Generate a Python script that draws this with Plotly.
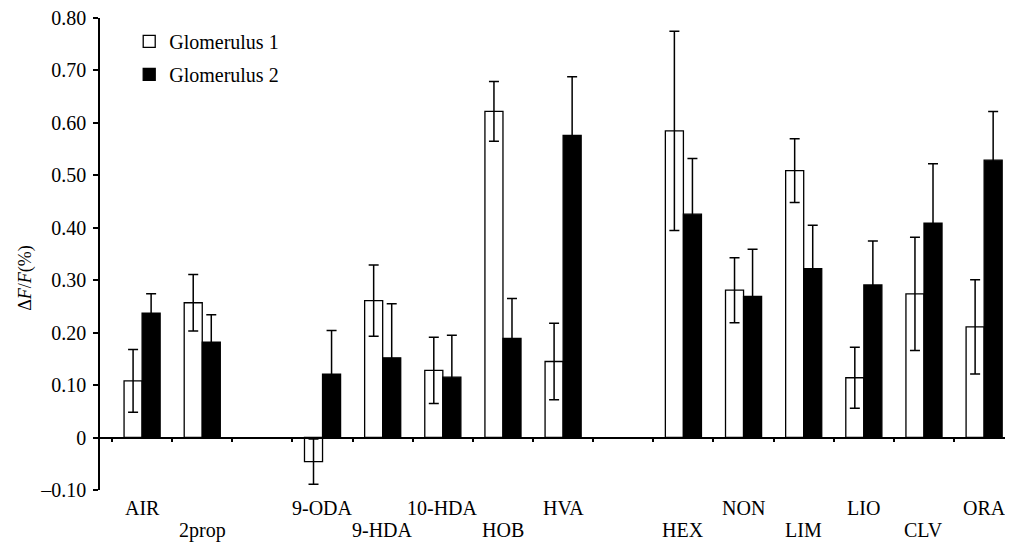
import plotly.graph_objects as go

# ---------------- data ----------------
groups = [
    ["AIR", "2prop"],
    ["9-ODA", "9-HDA", "10-HDA", "HOB", "HVA"],
    ["HEX", "NON", "LIM", "LIO", "CLV", "ORA"],
]
categories = [c for g in groups for c in g]

glom1 = [0.108, 0.257, -0.046, 0.261, 0.128, 0.622, 0.145, 0.585, 0.281, 0.509, 0.114, 0.274, 0.211]
glom1_err = [0.060, 0.054, 0.043, 0.068, 0.063, 0.057, 0.073, 0.190, 0.062, 0.061, 0.058, 0.108, 0.090]
glom2 = [0.237, 0.182, 0.121, 0.152, 0.115, 0.189, 0.576, 0.426, 0.269, 0.322, 0.291, 0.409, 0.529]
glom2_err = [0.037, 0.052, 0.083, 0.103, 0.080, 0.076, 0.112, 0.106, 0.090, 0.083, 0.084, 0.113, 0.093]

y_tickvals = [-0.10, 0, 0.10, 0.20, 0.30, 0.40, 0.50, 0.60, 0.70, 0.80]
y_ticktext = ["\u20130.10", "0", "0.10", "0.20", "0.30", "0.40", "0.50", "0.60", "0.70", "0.80"]

series_names = ["Glomerulus 1", "Glomerulus 2"]
y_title = "\u0394<i>F</i>/<i>F</i>(%)"

# category order with blank gaps between groups
cat_order = []
for gi, g in enumerate(groups):
    if gi > 0:
        cat_order.append(" " * gi)
    cat_order.extend(g)

FONT = "Liberation Serif, Times New Roman, serif"
FS = 20

fig = go.Figure()
fig.add_trace(go.Bar(
    x=categories, y=glom1, name=series_names[0], legendgroup="g1",
    marker=dict(color="white", line=dict(color="black", width=1.3)),
    error_y=dict(type="data", array=glom1_err, color="black", thickness=1.5, width=5),
))
fig.add_trace(go.Bar(
    x=categories, y=glom2, name=series_names[1], legendgroup="g2",
    marker=dict(color="black", line=dict(color="black", width=1.3)),
    error_y=dict(type="data", array=glom2_err, color="black", thickness=1.5, width=5),
))

y_min, y_max = -0.1001, 0.8001
zero_pos = (0 - y_min) / (y_max - y_min)

# page body has an 8px default margin; size/margins compensate for it
fig.update_layout(
    width=1005, height=534,
    margin=dict(l=92, r=0, t=10, b=52),
    paper_bgcolor="white", plot_bgcolor="white",
    barmode="group", bargap=0.4, bargroupgap=0,
    font=dict(family=FONT, size=FS, color="black"),
    showlegend=True,
    legend=dict(x=0.032, y=0.992, xanchor="left", yanchor="top",
                bgcolor="rgba(0,0,0,0)", tracegroupgap=4,
                font=dict(family=FONT, size=FS, color="black")),
    xaxis=dict(
        type="category", categoryorder="array", categoryarray=cat_order,
        range=[-0.70, 14.48],
        anchor="free", position=zero_pos,
        showline=True, linecolor="black", linewidth=1.5,
        ticks="outside", tickson="boundaries", ticklen=4, tickwidth=1.5, tickcolor="black",
        showticklabels=False, showgrid=False, zeroline=False,
    ),
    yaxis=dict(
        range=[y_min, y_max], domain=[0, 1],
        tickvals=y_tickvals, ticktext=y_ticktext,
        showline=True, linecolor="black", linewidth=1.5,
        ticks="outside", ticklen=5, tickwidth=1.5, tickcolor="black",
        ticklabelstandoff=3, ticklabeloverflow="allow",
        showgrid=False, zeroline=False,
        tickfont=dict(family=FONT, size=FS, color="black"),
    ),
)

# category labels in two staggered rows below the axis
for i, c in enumerate(categories):
    fig.add_annotation(
        x=c, xref="x", y=-0.038 if i % 2 == 0 else -0.085, yref="paper",
        text=c, showarrow=False, xanchor="center", yanchor="middle",
        font=dict(family=FONT, size=FS, color="black"),
    )

# y-axis title
fig.add_annotation(
    x=-0.082, xref="paper", y=0.305, yref="y", text=y_title, textangle=-90,
    showarrow=False, xanchor="center", yanchor="middle",
    font=dict(family=FONT, size=18, color="black"),
)

fig.write_html("out.html")
